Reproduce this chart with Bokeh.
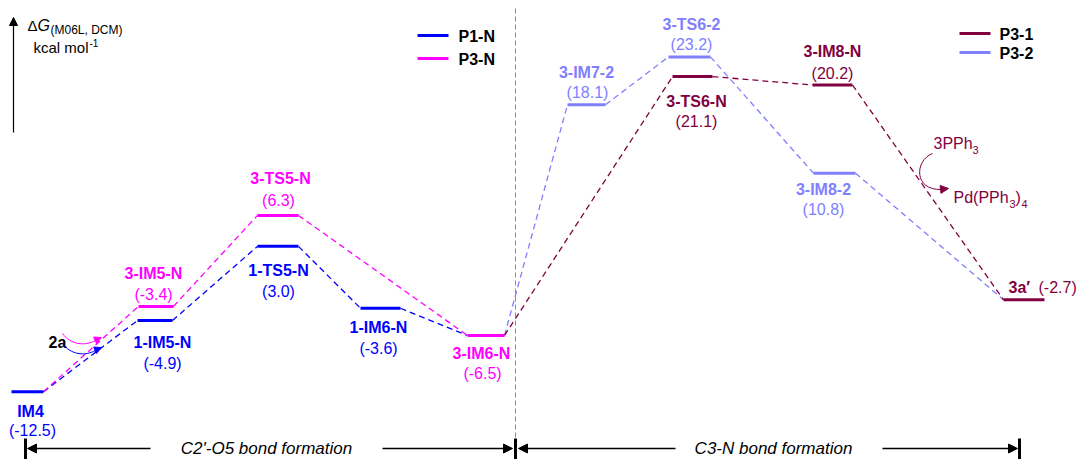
from bokeh.plotting import figure
from bokeh.models import Range1d, ColumnDataSource, Arrow, NormalHead
from bokeh.core.properties import value
from bokeh.embed import file_html
from bokeh.resources import INLINE

# ---------------- data ----------------
species = ["IM4", "1-IM5-N", "3-IM5-N", "1-TS5-N", "3-TS5-N", "1-IM6-N", "3-IM6-N",
           "3-IM7-2", "3-TS6-2", "3-TS6-N", "3-IM8-N", "3-IM8-2", "3a′"]
energies = [-12.5, -4.9, -3.4, 3.0, 6.3, -3.6, -6.5, 18.1, 23.2, 21.1, 20.2, 10.8, -2.7]
species_series = ["P1-N", "P1-N", "P3-N", "P1-N", "P3-N", "P1-N", "P3-N",
                  "P3-2", "P3-2", "P3-1", "P3-1", "P3-2", "P3-1"]

path_P1N = ["IM4", "1-IM5-N", "1-TS5-N", "1-IM6-N", "3-IM6-N"]
path_P3N = ["IM4", "3-IM5-N", "3-TS5-N", "3-IM6-N"]
path_P31 = ["3-IM6-N", "3-TS6-N", "3-IM8-N", "3a′"]
path_P32 = ["3-IM6-N", "3-IM7-2", "3-TS6-2", "3-IM8-2", "3a′"]

series_names = ["P1-N", "P3-N", "P3-1", "P3-2"]
series_colors = ["#0000ff", "#ff00ff", "#800040", "#8080ff"]
section_labels = ["C2'-O5 bond formation", "C3-N bond formation"]

# ---------------- layout (positions / styles) ----------------
bar_x0 = [11, 137, 138, 257, 257, 360, 467, 567, 668, 672, 812, 813, 1003]
bar_x1 = [43, 172, 173, 298, 298, 400, 504, 605, 710, 712, 852, 855, 1044]
name_x = [30, 162, 153, 278, 280, 378, 481, 586, 691, 696, 832, 823, 1008]
name_dy = [20, 22, -33, 24, -37, 19, 18, -32, -32, 25, -34, 16, -12]
val_x = [32, 162, 153, 278, 278, 378, 482, 587, 691, 696, 832, 823, 1038]
val_dy = [39, 43, -12, 45, -15, 40, 38, -12, -12, 45, -12, 36, -12]

FONT = "Liberation Sans"
W, H = 1076, 459
A, B = 274.0, -9.38          # pixel = A + B * energy
E_TOP = A / -B
E_BOT = (A - H) / -B

col = dict(zip(series_names, series_colors))
idx = {s: i for i, s in enumerate(species)}

p = figure(width=W, height=H, x_range=Range1d(0, W), y_range=Range1d(E_BOT, E_TOP),
           output_backend="svg", toolbar_location=None, min_border=0,
           x_axis_type=None, y_axis_type=None, outline_line_color=None)
p.grid.visible = False
p.extra_y_ranges = {"px": Range1d(H, 0)}

# dashed connectors
for path, name in [(path_P1N, "P1-N"), (path_P3N, "P3-N"), (path_P32, "P3-2"), (path_P31, "P3-1")]:
    xs0, ys0, xs1, ys1 = [], [], [], []
    for a, b in zip(path[:-1], path[1:]):
        ia, ib = idx[a], idx[b]
        xs0.append(bar_x1[ia]); ys0.append(energies[ia])
        xs1.append(bar_x0[ib]); ys1.append(energies[ib])
    p.segment(xs0, ys0, xs1, ys1, line_color=col[name], line_width=1.3, line_dash="6 4")

# level bars
bar_src = ColumnDataSource(dict(x0=bar_x0, x1=bar_x1, y=energies,
                                c=[col[s] for s in species_series]))
p.segment(x0="x0", y0="y", x1="x1", y1="y", line_color="c", line_width=3, source=bar_src)

# labels
align = ["center"] * (len(species) - 1) + ["left"]
name_src = ColumnDataSource(dict(x=name_x, y=energies, t=species, dy=name_dy,
                                 c=[col[s] for s in species_series], a=align))
p.text(x="x", y="y", text="t", y_offset="dy", text_color="c", text_align="a",
       text_baseline="middle", text_font=value(FONT), text_font_size="16px",
       text_font_style="bold", source=name_src)
val_src = ColumnDataSource(dict(x=val_x, y=energies, t=[f"({e:.1f})" for e in energies], dy=val_dy,
                                c=[col[s] for s in species_series], a=align))
p.text(x="x", y="y", text="t", y_offset="dy", text_color="c", text_align="a",
       text_baseline="middle", text_font=value(FONT), text_font_size="16px", source=val_src)

# ---------- annotations in pixel space ----------
def txt(x, y, t, size="16px", style="normal", color="black", align="left"):
    p.text([x], [y], text=[t], y_range_name="px", text_color=color, text_align=align,
           text_baseline="middle", text_font=value(FONT), text_font_size=size,
           text_font_style=style)

# legends
for i, (n, c) in enumerate(zip(series_names[:2], series_colors[:2])):
    yy = 35 + i * 23
    p.segment([417], [yy], [448], [yy], y_range_name="px", line_color=c, line_width=3)
    txt(458, yy + 1, n, style="bold")
for i, (n, c) in enumerate(zip(series_names[2:], series_colors[2:])):
    yy = 33 + i * 19
    p.segment([959], [yy], [990], [yy], y_range_name="px", line_color=c, line_width=3)
    txt(999, yy + 1, n, style="bold")

# energy axis arrow and title
p.add_layout(Arrow(x_start=13, y_start=132, x_end=13, y_end=17, y_range_name="px",
                   line_width=1.2, line_color="black",
                   end=NormalHead(size=8, fill_color="black", line_color="black")))
txt(27, 25, "Δ", size="15px")
txt(37, 25, "G", size="16px", style="italic")
txt(50, 29, "(M06L, DCM)", size="12px")
txt(33, 47, "kcal mol", size="15px")
txt(89, 42, "-1", size="10px")

# vertical separator
p.segment([515], [8], [515], [H], y_range_name="px", line_color="#8c8c8c",
          line_width=1, line_dash="5 3")

# bottom section arrows
for xt in [25, 515, 1019]:
    p.segment([xt], [438], [xt], [459], y_range_name="px", line_color="black", line_width=3)
for xs, xe in [(150, 27), (382, 512), (675, 518), (882, 1017)]:
    p.add_layout(Arrow(x_start=xs, y_start=448, x_end=xe, y_end=448, y_range_name="px",
                       line_width=1.5, line_color="black",
                       end=NormalHead(size=9, fill_color="black", line_color="black")))
txt(266, 448, section_labels[0], size="17px", style="italic", align="center")
txt(773, 448, section_labels[1], size="17px", style="italic", align="center")

# 2a curved arrows
txt(48, 342, "2a", style="bold")
p.bezier(x0=[62], y0=[333], x1=[95], y1=[340], cx0=[70], cy0=[344], cx1=[84], cy1=[346],
         y_range_name="px", line_color="#ff00ff", line_width=1)
p.add_layout(Arrow(x_start=94, y_start=340, x_end=101, y_end=337, y_range_name="px",
                   line_width=1, line_color="#ff00ff",
                   end=NormalHead(size=7, fill_color="#ff00ff", line_color="#ff00ff")))
p.bezier(x0=[62], y0=[343], x1=[95], y1=[350], cx0=[70], cy0=[354], cx1=[84], cy1=[356],
         y_range_name="px", line_color="#0000ff", line_width=1)
p.add_layout(Arrow(x_start=94, y_start=350, x_end=101, y_end=347, y_range_name="px",
                   line_width=1, line_color="#0000ff",
                   end=NormalHead(size=7, fill_color="#0000ff", line_color="#0000ff")))

# 3PPh3 / Pd(PPh3)4
mar = "#800040"
p.bezier(x0=[932], y0=[153], x1=[941], y1=[189], cx0=[914], cy0=[160], cx1=[913], cy1=[190],
         y_range_name="px", line_color=mar, line_width=1)
p.add_layout(Arrow(x_start=939, y_start=189, x_end=948, y_end=188, y_range_name="px",
                   line_width=1, line_color=mar,
                   end=NormalHead(size=8, fill_color=mar, line_color=mar)))
txt(933, 143, "3PPh", color=mar)
txt(972, 149, "3", size="11px", color=mar)
txt(953, 197, "Pd(PPh", color=mar)
txt(1009, 203, "3", size="11px", color=mar)
txt(1015, 197, ")", color=mar)
txt(1021, 203, "4", size="11px", color=mar)

open("out.html", "w").write(file_html(p, INLINE))
